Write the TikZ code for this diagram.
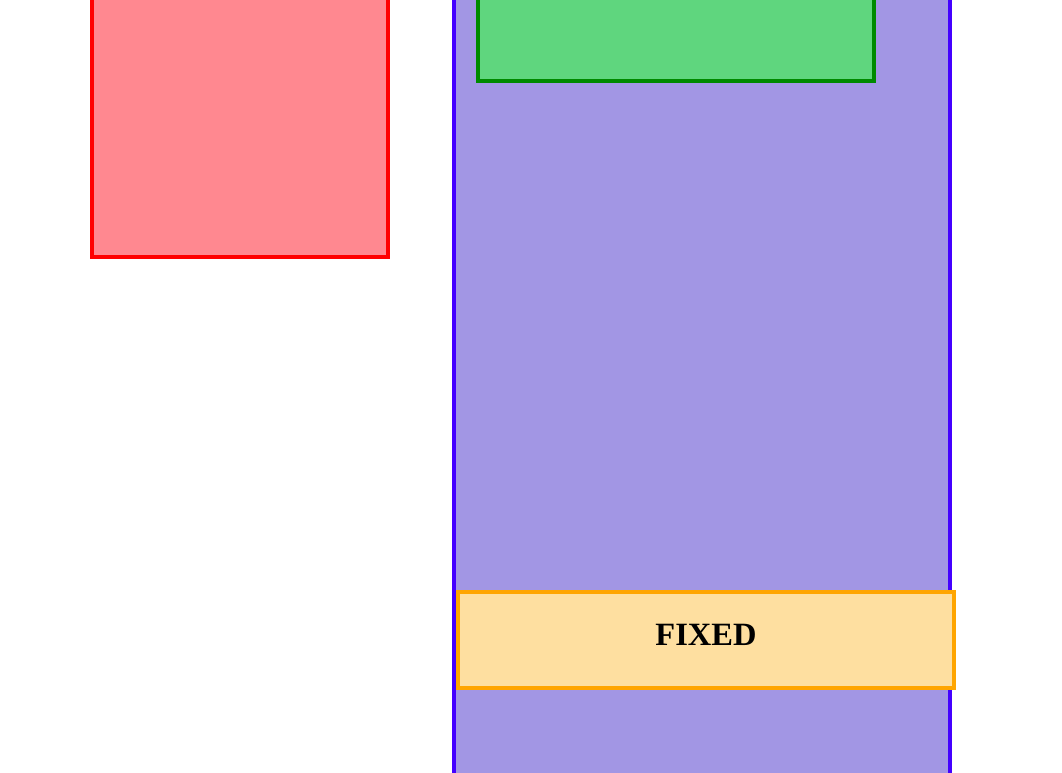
\documentclass[tikz,border=0pt]{standalone}
\usepackage{fontspec}
\setmainfont{Liberation Serif}
\definecolor{redfill}{RGB}{255,136,144}
\definecolor{redline}{RGB}{255,0,0}
\definecolor{purfill}{RGB}{162,150,228}
\definecolor{purline}{RGB}{68,0,255}
\definecolor{grnfill}{RGB}{95,214,126}
\definecolor{grnline}{RGB}{0,138,0}
\definecolor{orfill}{RGB}{254,223,160}
\definecolor{orline}{RGB}{255,165,0}
\tikzset{
  boxshape/.style={rectangle, inner sep=0pt, outer sep=0pt, line width=4pt, anchor=north west},
}
\begin{document}
\begin{tikzpicture}[x=1pt,y=-1pt]
\useasboundingbox (0,0) rectangle (1062,773);
\clip (0,0) rectangle (1062,773);
\node[boxshape, fill=redfill, draw=redline, minimum width=296pt, minimum height=306.5pt] (red) at (92,-50) {};
\node[boxshape, fill=purfill, draw=purline, minimum width=496pt, minimum height=880pt] (purple) at (454,-50) {};
\node[boxshape, fill=grnfill, draw=grnline, minimum width=396pt, minimum height=131pt] (green) at (478,-50) {};
\node[boxshape, fill=orfill, draw=orline, minimum width=496pt, minimum height=96pt] (orange) at (458,592) {};
\node[inner sep=0pt, anchor=base, font=\fontsize{32.5}{38}\selectfont\bfseries] (fixed) at (706,645) {FIXED};
\end{tikzpicture}
\end{document}
